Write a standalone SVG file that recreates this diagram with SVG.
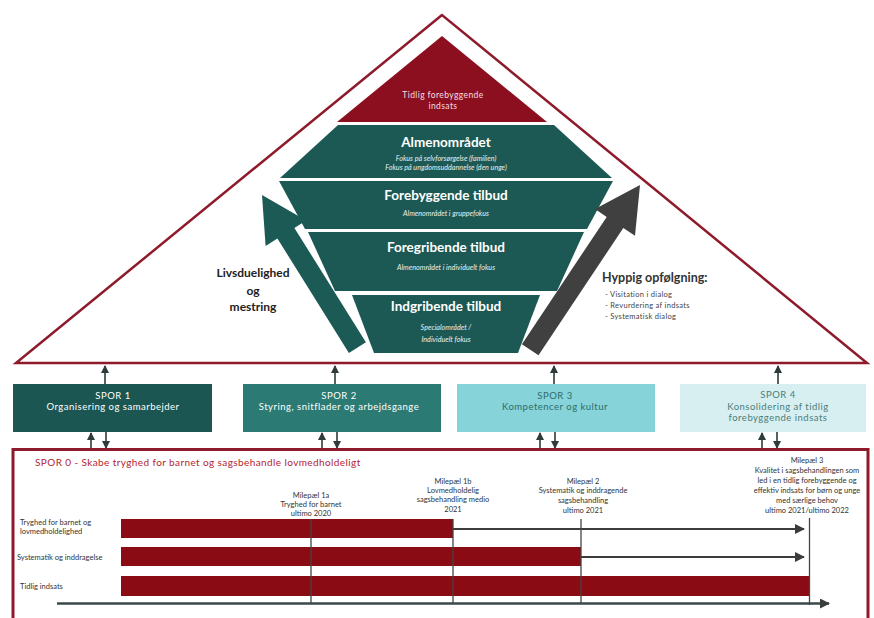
<svg xmlns="http://www.w3.org/2000/svg" width="874" height="618" viewBox="0 0 874 618">
<style>
text{font-family:Lato,"Liberation Sans",sans-serif}
.band{fill:#1d5954}
.bt{fill:#fff;font-weight:bold;font-size:13.5px;text-anchor:middle}
.bs{fill:#e6efee;font-style:italic;font-size:7.2px;text-anchor:middle}
.sp{font-size:9.5px;letter-spacing:0.5px;text-anchor:middle}
.ms{font-size:7.5px;fill:#333;text-anchor:middle}
.rl{font-size:7.5px;fill:#333}
.bar{fill:#8a0b14}
.vl{stroke:#444;stroke-width:1.3}
.con{stroke:#2f3a3a;stroke-width:1.6;fill:none}
.tl{stroke:#3c3c3c;stroke-width:2;fill:none}
</style>
<defs>
<marker id="ah" markerUnits="userSpaceOnUse" markerWidth="8" markerHeight="8" refX="7" refY="4" orient="auto"><path d="M0,0 L8,4 L0,8 z" fill="#2f3a3a"/></marker>
<marker id="ta" markerUnits="userSpaceOnUse" markerWidth="10" markerHeight="10" refX="9" refY="5" orient="auto"><path d="M0,0 L10,5 L0,10 z" fill="#3c3c3c"/></marker>
</defs>
<rect width="874" height="618" fill="#fff"/>

<g id="pyramid-frame">
<polygon points="442,15 16,363 867,363" fill="#fff" stroke="#8e1b2b" stroke-width="2.5"/>
</g>

<g id="tidlig">
<polygon points="442,36 337,122 547,122" fill="#8c0f1f"/>
<text x="443" y="98" fill="#f5dde1" font-size="8.5" text-anchor="middle" letter-spacing="0.4">Tidlig forebyggende</text>
<text x="443" y="109" fill="#f5dde1" font-size="8.5" text-anchor="middle" letter-spacing="0.4">indsats</text>
</g>

<g id="almen">
<polygon class="band" points="338,125 554,125 612,178 280,178"/>
<text class="bt" x="446" y="147">Almenområdet</text>
<text class="bs" x="446" y="161">Fokus på selvforsørgelse (familien)</text>
<text class="bs" x="446" y="170">Fokus på ungdomsuddannelse (den unge)</text>
</g>

<g id="forebyggende">
<polygon class="band" points="279,181 613,181 587,229 305,229"/>
<text class="bt" x="446" y="200">Forebyggende tilbud</text>
<text class="bs" x="446" y="216">Almenområdet i gruppefokus</text>
</g>

<g id="foregribende">
<polygon class="band" points="308,232 584,232 557,291 335,291"/>
<text class="bt" x="446" y="252">Foregribende tilbud</text>
<text class="bs" x="446" y="270">Almenområdet i individuelt fokus</text>
</g>

<g id="indgribende">
<polygon class="band" points="352,295 540,295 518,353 374,353"/>
<text class="bt" x="446" y="311">Indgribende tilbud</text>
<text class="bs" x="446" y="330">Specialområdet /</text>
<text class="bs" x="446" y="342">Individuelt fokus</text>
</g>

<g id="arrow-left">
<polygon points="262,195 306.2,220.5 294.4,227.9 365.9,342.3 348.9,352.9 277.4,238.5 265.6,245.9" fill="#1c5a55"/>
</g>
<g id="arrow-right">
<polygon points="640,185 635,235.7 623.3,228 538.5,355.2 521.9,344.2 606.7,216.9 595,209.1" fill="#404040"/>
</g>

<g id="livsduelighed">
<text x="253" y="277" font-size="12" font-weight="bold" fill="#222" text-anchor="middle">Livsduelighed</text>
<text x="253" y="295" font-size="12" font-weight="bold" fill="#222" text-anchor="middle">og</text>
<text x="253" y="311" font-size="12" font-weight="bold" fill="#222" text-anchor="middle">mestring</text>
</g>

<g id="hyppig">
<text x="602" y="282" font-size="12.5" font-weight="bold" fill="#333">Hyppig opfølgning:</text>
<text x="605" y="297" font-size="7.5" fill="#444" letter-spacing="0.3">- Visitation i dialog</text>
<text x="605" y="308" font-size="7.5" fill="#444" letter-spacing="0.3">- Revurdering af indsats</text>
<text x="605" y="319" font-size="7.5" fill="#444" letter-spacing="0.3">- Systematisk dialog</text>
</g>

<g id="spor1">
<rect x="13" y="384" width="199" height="48" fill="#1b5652"/>
<text class="sp" x="113" y="399" fill="#fff">SPOR 1</text>
<text class="sp" x="113" y="410" fill="#fff">Organisering og samarbejder</text>
</g>
<g id="spor2">
<rect x="243" y="384" width="198" height="48" fill="#2b7a73"/>
<text class="sp" x="339" y="399" fill="#fff">SPOR 2</text>
<text class="sp" x="339" y="410" fill="#fff">Styring, snitflader og arbejdsgange</text>
</g>
<g id="spor3">
<rect x="457" y="384" width="198" height="48" fill="#86d3d9"/>
<text class="sp" x="555" y="399" fill="#2d6d68">SPOR 3</text>
<text class="sp" x="555" y="410" fill="#2d6d68">Kompetencer og kultur</text>
</g>
<g id="spor4">
<rect x="680" y="384" width="186" height="48" fill="#d8eff1"/>
<text class="sp" x="778" y="398" fill="#4a7d7a">SPOR 4</text>
<text class="sp" x="778" y="410" fill="#4a7d7a">Konsolidering af tidlig</text>
<text class="sp" x="778" y="421" fill="#4a7d7a">forebyggende indsats</text>
</g>

<g id="connectors">
<line class="con" x1="105" y1="384" x2="105" y2="366" marker-end="url(#ah)"/>
<line class="con" x1="335" y1="384" x2="335" y2="366" marker-end="url(#ah)"/>
<line class="con" x1="554" y1="384" x2="554" y2="366" marker-end="url(#ah)"/>
<line class="con" x1="778" y1="384" x2="778" y2="366" marker-end="url(#ah)"/>
<line class="con" x1="91" y1="449" x2="91" y2="433" marker-end="url(#ah)"/>
<line class="con" x1="106" y1="432" x2="106" y2="448" marker-end="url(#ah)"/>
<line class="con" x1="322" y1="449" x2="322" y2="433" marker-end="url(#ah)"/>
<line class="con" x1="337" y1="432" x2="337" y2="448" marker-end="url(#ah)"/>
<line class="con" x1="540" y1="449" x2="540" y2="433" marker-end="url(#ah)"/>
<line class="con" x1="555" y1="432" x2="555" y2="448" marker-end="url(#ah)"/>
<line class="con" x1="762" y1="449" x2="762" y2="433" marker-end="url(#ah)"/>
<line class="con" x1="777" y1="432" x2="777" y2="448" marker-end="url(#ah)"/>
</g>

<g id="spor0">
<rect x="13" y="449.5" width="855" height="180" fill="none" stroke="#8e1b2b" stroke-width="3"/>
<text x="35" y="466" font-size="10" fill="#b3242f" letter-spacing="0.4">SPOR 0 - Skabe tryghed for barnet og sagsbehandle lovmedholdeligt</text>
</g>

<g id="milestones">
<text class="ms" x="311" y="498">Milepæl 1a</text>
<text class="ms" x="311" y="507">Tryghed for barnet</text>
<text class="ms" x="311" y="516">ultimo 2020</text>
<text class="ms" x="453" y="484">Milepæl 1b</text>
<text class="ms" x="453" y="493">Lovmedholdelig</text>
<text class="ms" x="453" y="502">sagsbehandling medio</text>
<text class="ms" x="453" y="512">2021</text>
<text class="ms" x="583" y="484">Milepæl 2</text>
<text class="ms" x="583" y="493">Systematik og inddragende</text>
<text class="ms" x="583" y="503">sagsbehandling</text>
<text class="ms" x="583" y="513">ultimo 2021</text>
<text class="ms" x="807" y="463">Milepæl 3</text>
<text class="ms" x="807" y="473">Kvalitet i sagsbehandlingen som</text>
<text class="ms" x="807" y="483">led i en tidlig forebyggende og</text>
<text class="ms" x="807" y="493">effektiv indsats for børn og unge</text>
<text class="ms" x="807" y="503">med særlige behov</text>
<text class="ms" x="807" y="513">ultimo 2021/ultimo 2022</text>
</g>

<g id="timeline">
<text class="rl" x="20" y="525">Tryghed for barnet og</text>
<text class="rl" x="20" y="534">lovmedholdelighed</text>
<text class="rl" x="17" y="560">Systematik og inddragelse</text>
<text class="rl" x="20" y="589">Tidlig indsats</text>
<rect class="bar" x="121" y="519" width="332" height="19"/>
<rect class="bar" x="121" y="547" width="460" height="19"/>
<rect class="bar" x="121" y="576" width="688" height="20"/>
<line class="tl" x1="453" y1="529" x2="804" y2="529" marker-end="url(#ta)"/>
<line class="tl" x1="581" y1="557" x2="804" y2="557" marker-end="url(#ta)"/>
<line class="vl" x1="311" y1="519" x2="311" y2="603"/>
<line class="vl" x1="453" y1="519" x2="453" y2="603"/>
<line class="vl" x1="581" y1="519" x2="581" y2="603"/>
<line class="vl" x1="809.5" y1="518" x2="809.5" y2="605" stroke-width="2"/>
<line x1="57" y1="603.5" x2="829" y2="603.5" stroke="#3a4848" stroke-width="2.5" marker-end="url(#ta)"/>
</g>
</svg>
